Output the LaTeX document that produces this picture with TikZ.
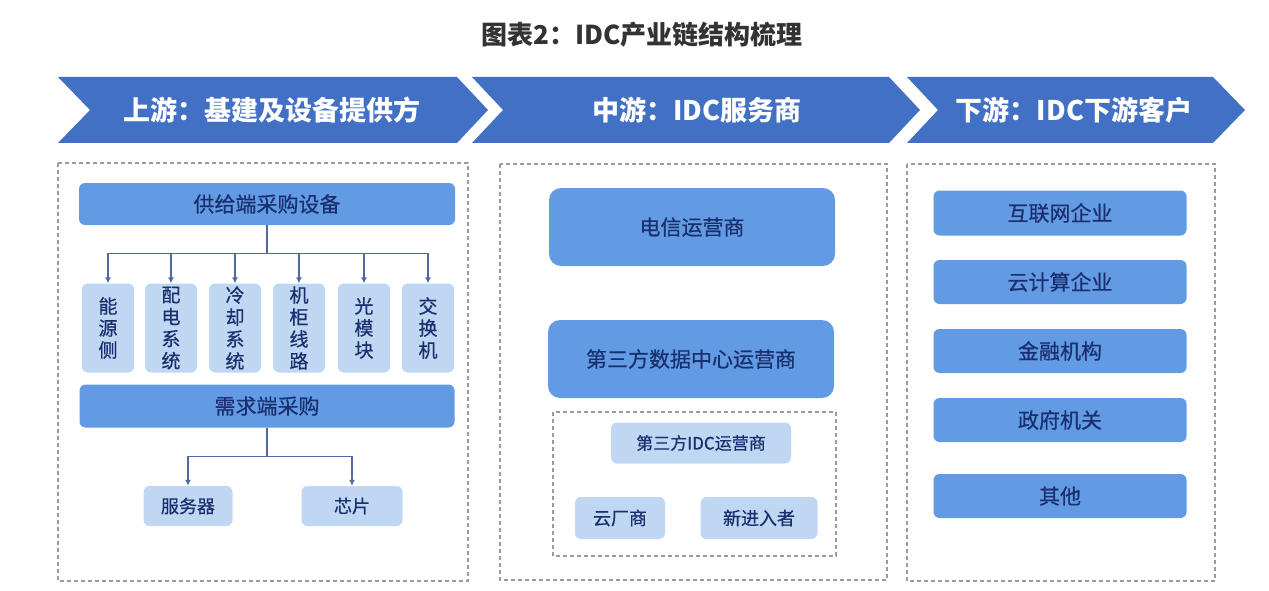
\documentclass[tikz,border=0pt]{standalone}
\usepackage{fontspec}
\setmainfont{Noto Sans CJK SC}
\newfontfamily\midfont{Noto Sans CJK SC}[FakeBold=0.6]
\usepackage{tikz}
\usetikzlibrary{arrows.meta}
\tikzset{>={Latex[length=6,width=6]}}
\definecolor{chevblue}{RGB}{66,112,196}
\definecolor{barblue}{RGB}{98,154,228}
\definecolor{lightblue}{RGB}{192,215,243}
\definecolor{navy}{RGB}{26,48,110}
\definecolor{dashgray}{RGB}{150,155,165}
\definecolor{linkblue}{RGB}{80,105,160}
\tikzstyle{chev} = [fill=chevblue]
\tikzstyle{chevtext} = [text=white, font=\fontsize{27}{30}\selectfont\bfseries]
\tikzstyle{bar} = [rectangle, rounded corners=6, fill=barblue, text=navy, text centered, font=\fontsize{21}{24}\selectfont\midfont]
\tikzstyle{bigbar} = [rectangle, rounded corners=12, fill=barblue, text=navy, text centered, font=\fontsize{21}{24}\selectfont\midfont]
\tikzstyle{item} = [rectangle, rounded corners=6, fill=lightblue, text=navy, text centered, inner sep=0, font=\fontsize{18}{21}\selectfont\midfont]
\tikzstyle{vitem} = [item, align=center, font=\fontsize{19}{22}\selectfont\midfont, minimum width=52, minimum height=89]
\tikzstyle{frame} = [draw=dashgray, line width=1.2, dash pattern=on 4pt off 3pt]
\tikzstyle{arrow} = [draw=linkblue, line width=1.1, ->]

\begin{document}
\begin{tikzpicture}[x=1pt, y=-1pt]
	\useasboundingbox (0,0) rectangle (1269,591);
	\node (title) [text=black!80, font=\fontsize{26}{30}\selectfont\bfseries] at (642,35) {图表2：IDC产业链结构梳理};
	% chevrons
	\fill[chev] (58,77) -- (457,77) -- (488,110) -- (457,143) -- (58,143) -- (90,110) -- cycle;
	\fill[chev] (472,77) -- (889,77) -- (920,110) -- (889,143) -- (472,143) -- (503,110) -- cycle;
	\fill[chev] (907,77) -- (1213,77) -- (1245,110) -- (1213,143) -- (907,143) -- (938,110) -- cycle;
	\node (up) [chevtext] at (272,110) {上游：基建及设备提供方};
	\node (mid) [chevtext] at (697,110) {中游：IDC服务商};
	\node (down) [chevtext] at (1074,110) {下游：IDC下游客户};
	% dashed frames
	\draw[frame] (58,163) rectangle (468,581);
	\draw[frame] (500,164) rectangle (887,580);
	\draw[frame] (907,164) rectangle (1215,581);
	\draw[frame] (553,412) rectangle (836,556);
	% upstream
	\node (sup) [bar, minimum width=376, minimum height=42] at (267,204) {供给端采购设备};
	\node (b1) [vitem] at (108,328) {能\\源\\侧};
	\node (b2) [vitem] at (171,328) {配\\电\\系\\统};
	\node (b3) [vitem] at (235,328) {冷\\却\\系\\统};
	\node (b4) [vitem] at (299,328) {机\\柜\\线\\路};
	\node (b5) [vitem] at (364,328) {光\\模\\块};
	\node (b6) [vitem] at (428,328) {交\\换\\机};
	\node (dem) [bar, minimum width=375, minimum height=43] at (267,406) {需求端采购};
	\node (srv) [item, minimum width=89, minimum height=40] at (188,506) {服务器};
	\node (chip) [item, minimum width=101, minimum height=40] at (352,506) {芯片};
	\foreach \b in {b1,b2,b3,b4,b5,b6}
		\draw[arrow] (sup.south) -- ++(0,28) -| (\b.north);
	\draw[arrow] (dem.south) -- ++(0,29) -| (srv.north);
	\draw[arrow] (dem.south) -- ++(0,29) -| (chip.north);
	% midstream
	\node (tel) [bigbar, minimum width=286, minimum height=78] at (692,227) {电信运营商};
	\node (tdc) [bigbar, minimum width=286, minimum height=78] at (691,359) {第三方数据中心运营商};
	\node (tidc) [item, minimum width=180, minimum height=41, font=\fontsize{17}{20}\selectfont\midfont] at (701,443) {第三方IDC运营商};
	\node (cloud) [item, minimum width=90, minimum height=42] at (620,518) {云厂商};
	\node (new) [item, minimum width=117, minimum height=42] at (759,518) {新进入者};
	% downstream
	\node (net) [bar, minimum width=253, minimum height=45] at (1060,213) {互联网企业};
	\node (cc) [bar, minimum width=253, minimum height=44] at (1060,282) {云计算企业};
	\node (fin) [bar, minimum width=253, minimum height=44] at (1060,351) {金融机构};
	\node (gov) [bar, minimum width=253, minimum height=44] at (1060,420) {政府机关};
	\node (oth) [bar, minimum width=253, minimum height=44] at (1060,496) {其他};
\end{tikzpicture}
\end{document}
